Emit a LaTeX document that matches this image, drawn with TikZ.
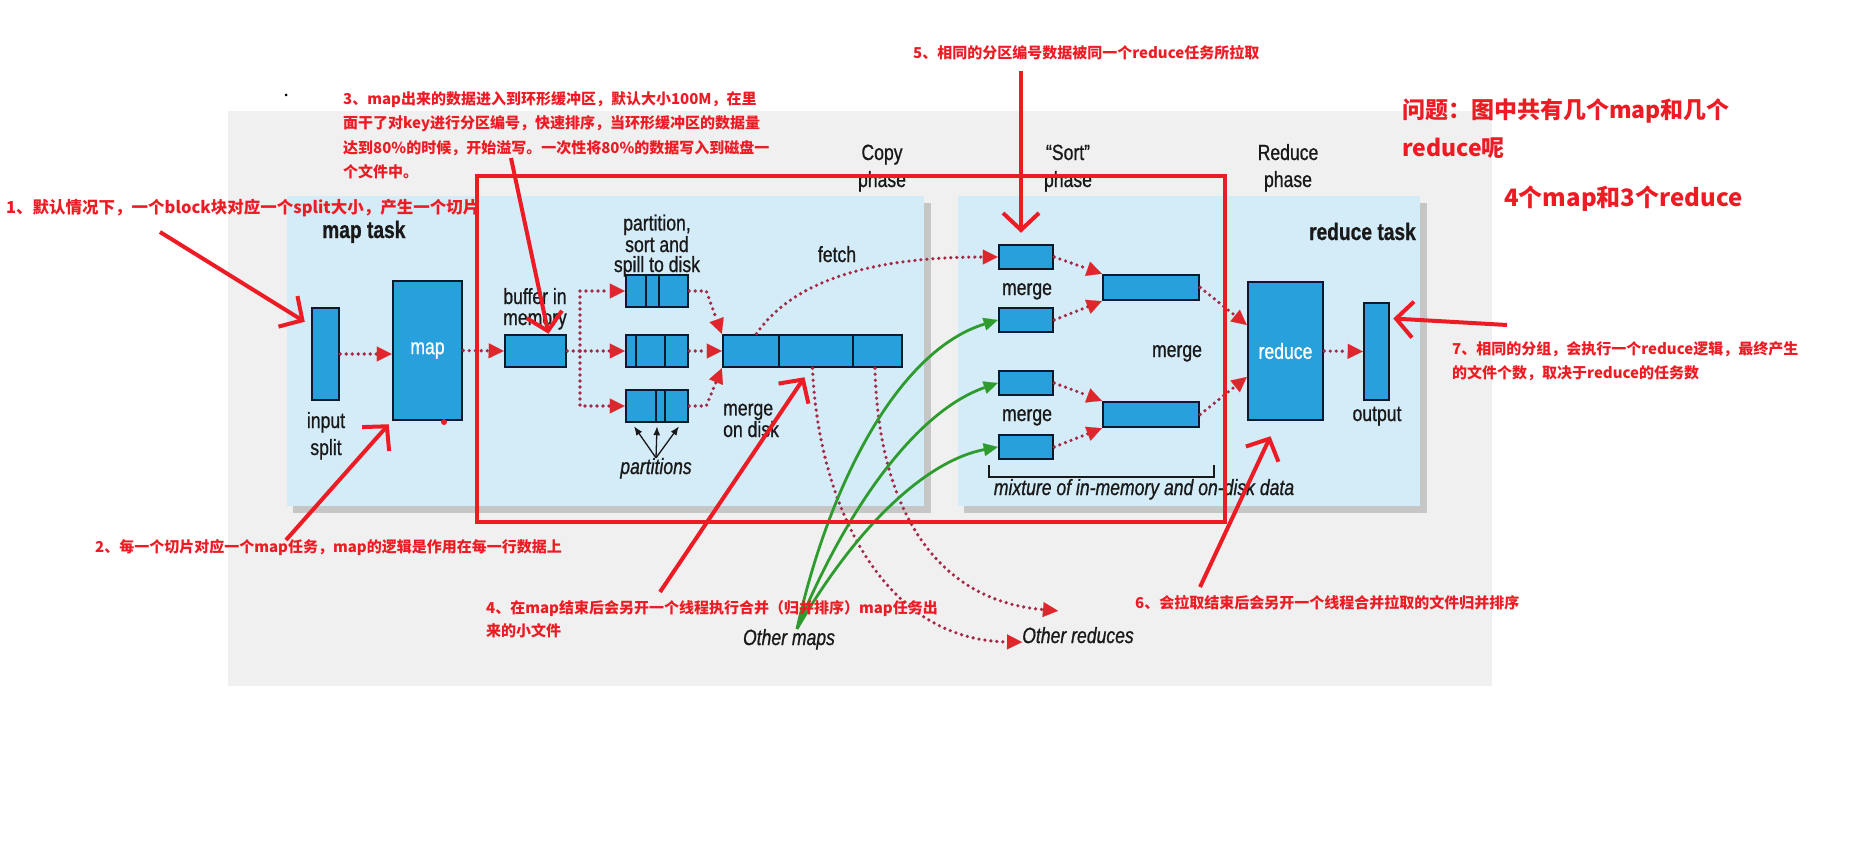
\documentclass[tikz,border=0pt]{standalone}
\usepackage{fontspec}
\newfontfamily\cjk{Noto Sans CJK SC}
\newfontfamily\lab{Liberation Sans}[FakeStretch=0.8, FakeBold=0.8]
\usetikzlibrary{arrows.meta}
\definecolor{annred}{RGB}{237,28,36}
\definecolor{bggray}{RGB}{240,240,240}
\definecolor{panelblue}{RGB}{212,235,248}
\definecolor{boxblue}{RGB}{40,160,220}
\definecolor{boxline}{RGB}{15,25,45}
\definecolor{labtext}{RGB}{25,25,25}
\definecolor{dotred}{RGB}{165,40,70}
\definecolor{tipred}{RGB}{222,38,45}
\definecolor{grn}{RGB}{45,155,45}

\begin{document}
\begin{tikzpicture}[x=1pt, y=-1pt,
    blk/.style={draw=boxline, fill=boxblue, line width=2.5pt, inner sep=0pt,
      text=white, font=\lab\fontsize{22}{20}\selectfont},
    lbl/.style={font=\lab\fontsize{22}{20}\selectfont, text=labtext, inner sep=0pt,
      align=center, anchor=base},
    ann/.style={font=\cjk\bfseries\fontsize{15}{24.5}\selectfont, text=annred,
      inner sep=0pt, align=left, anchor=base west},
    dotarr/.style={draw=dotred, line width=3.6pt, dash pattern=on 0pt off 6pt, line cap=round,
      -{Triangle[length=15pt,width=15pt,line width=0.1pt,color=tipred]}},
    grnarr/.style={draw=grn, line width=2.8pt, -{Triangle[length=14pt,width=13pt,line width=0.1pt]}},
    annarr/.style={draw=annred, line width=4pt, -{Straight Barb[length=17pt,width=36pt]}}]
    \useasboundingbox (0,0) rectangle (1870,864);

    % Screenshot background
    \fill[bggray] (228,111) rectangle (1492,686);
    \fill (286,95) circle (1.5pt);

    % Panels
    \fill[gray!45] (293,203) rectangle (931,513);
    \fill[panelblue] (287,196) rectangle (924,506);
    \fill[gray!45] (964,203) rectangle (1427,513);
    \fill[panelblue] (958,196) rectangle (1420,506);

    % base of a multi-line node = its last line
    \node[lbl, font=\lab\fontsize{22}{27}\selectfont] (copyph) at (882,187) {Copy\\phase};
    \node[lbl, font=\lab\fontsize{22}{27}\selectfont] (sortph) at (1068,187) {“Sort”\\phase};
    \node[lbl, font=\lab\fontsize{22}{27}\selectfont] (redph) at (1288,187) {Reduce\\phase};
    \node[lbl, font=\lab\bfseries\fontsize{24}{24}\selectfont, anchor=base west] (maptask) at (322,238) {map task};
    \node[lbl, font=\lab\bfseries\fontsize{24}{24}\selectfont, anchor=base east] (redtask) at (1416,240) {reduce task};

    % Map side
    \node[blk, minimum width=27pt, minimum height=92pt] (split) at (325.5,354) {};
    \node[blk, minimum width=69pt, minimum height=139pt] (mapbox) at (427.5,350.5) {map};
    \node[blk, minimum width=61pt, minimum height=32pt] (buffer) at (535.5,351) {};
    \node[blk, minimum width=62pt, minimum height=32pt] (part1) at (657,291) {};
    \node[blk, minimum width=62pt, minimum height=32pt] (part2) at (657,351) {};
    \node[blk, minimum width=62pt, minimum height=32pt] (part3) at (657,406) {};
    \node[blk, minimum width=179pt, minimum height=32pt] (disk) at (812.5,351) {};
    \foreach \x/\t in {646/275, 659/275, 636/335, 665/335, 656/390, 665/390, 779/335, 853/335}
        \draw[boxline, line width=2.5pt] (\x,\t) -- ++(0,32);

    \node[lbl, font=\lab\fontsize{22}{27}\selectfont] (splitlbl) at (326,455) {input\\split};
    \node[lbl, font=\lab\fontsize{22}{21}\selectfont] (buflbl) at (535,325) {buffer in\\memory};
    \node[lbl] (spilllbl) at (657,272) {partition,\\sort and\\spill to disk};
    \node[lbl] (fetchlbl) at (837,262) {fetch};
    \node[lbl, font=\lab\fontsize{22}{19}\selectfont, anchor=base west, align=left] (disklbl) at (723,437) {merge\\on disk};
    \node[lbl, font=\lab\itshape\fontsize{22}{20}\selectfont] (partslbl) at (656,474) {partitions};

    % Reduce side
    \foreach \n/\y in {mA/257, mB/320, mC/383, mD/447}
        \node[blk, minimum width=54pt, minimum height=24pt] (\n) at (1026,\y) {};
    \node[blk, minimum width=96pt, minimum height=25pt] (mE) at (1151,287.5) {};
    \node[blk, minimum width=96pt, minimum height=25pt] (mF) at (1151,414.5) {};
    \node[blk, minimum width=75pt, minimum height=138pt] (redbox) at (1285.5,351) {reduce};
    \node[blk, minimum width=25pt, minimum height=97pt] (outbox) at (1376.5,351.5) {};

    \node[lbl] (mABlbl) at (1027,295) {merge};
    \node[lbl] (mCDlbl) at (1027,421) {merge};
    \node[lbl] (mEFlbl) at (1177,357) {merge};
    \node[lbl] (outlbl) at (1377,421) {output};
    \draw[labtext, line width=1.5pt] (989,465) -- (989,477) -- (1214,477) -- (1214,465);
    \node[lbl, font=\lab\itshape\fontsize{22}{20}\selectfont] (mixlbl) at (1144,495) {mixture of in-memory and on-disk data};
    \node[lbl, font=\lab\itshape\fontsize{22}{20}\selectfont] (omaps) at (789,645) {Other maps};
    \node[lbl, font=\lab\itshape\fontsize{22}{20}\selectfont] (ored) at (1078,643) {Other reduces};

    % Data flow
    \draw[dotarr] (split.east) -- (mapbox.west |- split.east);
    \draw[dotarr] (mapbox.east) -- (buffer.west);
    \coordinate (fork) at (580,351);
    \draw[dotarr] (buffer.east) -- (part2.west);
    \draw[dotarr] (fork) |- (part1.west);
    \draw[dotarr] (fork) |- (part3.west);
    \draw[dotarr] (part1.east) -- ++(17,0) -- (disk.north west);
    \draw[dotarr] (part2.east) -- (disk.west);
    \draw[dotarr] (part3.east) -- ++(17,0) -- (disk.south west);
    \foreach \s in {-23, 0, 22}
        \draw[labtext, line width=1.3pt, -{Latex[length=9pt,width=7pt]}] (partslbl.north) -- ([xshift=\s pt, yshift=-3pt]part3.south);

    \draw[dotarr] ([xshift=-56pt]disk.north) .. controls (800,270) and (900,257) .. (mA.west);
    \draw[dotarr] (disk.south) .. controls (818,500) and (880,640) .. ([yshift=-7pt]ored.west);
    \draw[dotarr] ([xshift=62.5pt]disk.south) .. controls (878,500) and (930,600) .. ([xshift=-20pt,yshift=16pt]ored.north);

    \draw[grnarr] ([xshift=8pt]omaps.north) .. controls (830,480) and (900,350) .. (mB.west);
    \draw[grnarr] ([xshift=8pt]omaps.north) .. controls (850,500) and (920,410) .. (mC.west);
    \draw[grnarr] ([xshift=8pt]omaps.north) .. controls (860,520) and (930,460) .. (mD.west);

    \draw[dotarr] (mA.east) -- (mE.north west);
    \draw[dotarr] (mB.east) -- (mE.south west);
    \draw[dotarr] (mC.east) -- (mF.north west);
    \draw[dotarr] (mD.east) -- (mF.south west);
    \draw[dotarr] (mE.east) -- ([yshift=26pt]redbox.west);
    \draw[dotarr] (mF.east) -- ([yshift=-26pt]redbox.west);
    \draw[dotarr] (redbox.east) -- (outbox.west);

    % Notes
    \fill[annred] (444,422) circle (3pt);
    \draw[annred, line width=4pt] (477,176) rectangle (1225,522);

    \node[ann, font=\cjk\bfseries\fontsize{16.5}{24}\selectfont] (note1) at (6,213) {1、默认情况下，一个block块对应一个split大小，产生一个切片};
    \node[ann] (note2) at (95,552) {2、每一个切片对应一个map任务，map的逻辑是作用在每一行数据上};
    \node[ann] (note3) at (343,177.5) {3、map出来的数据进入到环形缓冲区，默认大小100M，在里\\面干了对key进行分区编号，快速排序，当环形缓冲区的数据量\\达到80\%的时候，开始溢写。一次性将80\%的数据写入到磁盘一\\个文件中。};
    \node[ann, font=\cjk\bfseries\fontsize{15}{23.5}\selectfont] (note4) at (486,636.5) {4、在map结束后会另开一个线程执行合并（归并排序）map任务出\\来的小文件};
    \node[ann] (note5) at (913,59) {5、相同的分区编号数据被同一个reduce任务所拉取};
    \node[ann] (note6) at (1135,608) {6、会拉取结束后会另开一个线程合并拉取的文件归并排序};
    \node[ann, font=\cjk\bfseries\fontsize{15}{24}\selectfont] (note7) at (1452,378) {7、相同的分组，会执行一个reduce逻辑，最终产生\\的文件个数，取决于reduce的任务数};
    \node[ann, font=\cjk\bfseries\fontsize{23}{38}\selectfont] (question) at (1402,156) {问题：图中共有几个map和几个\\reduce呢};
    \node[ann, font=\cjk\bfseries\fontsize{24}{30}\selectfont] (answer) at (1504,206) {4个map和3个reduce};

    \coordinate (a1) at (160,232);
    \coordinate (a2) at (286,540);
    \coordinate (a3) at (511,158);
    \coordinate (a4) at (660,592);
    \coordinate (a5) at (1021,71);
    \coordinate (a6) at (1200,587);
    \coordinate (a7) at (1507,325);
    \draw[annarr] (a1) -- ([xshift=-6pt,yshift=-15pt]split.north west);
    \draw[annarr] (a2) -- ([xshift=-3pt,yshift=-3pt]mapbox.south west);
    \draw[annarr] (a3) -- ([xshift=13pt]buffer.north);
    \draw[annarr] (a4) -- ([xshift=-8pt,yshift=-9pt]disk.south);
    \draw[annarr] (a5) -- ([xshift=-5pt,yshift=11pt]mA.north);
    \draw[annarr] (a6) -- ([xshift=-15pt,yshift=-15pt]redbox.south);
    \draw[annarr] (a7) -- ([xshift=3pt,yshift=33pt]outbox.east);
\end{tikzpicture}
\end{document}
